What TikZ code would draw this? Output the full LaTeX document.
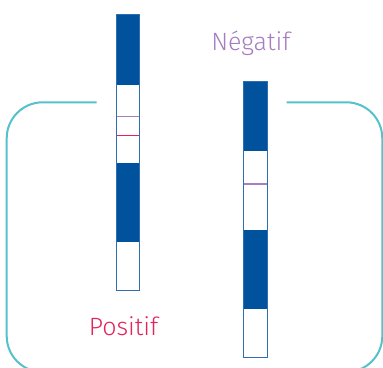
\documentclass[tikz,border=0pt]{standalone}
\usepackage{fontspec}
\setmainfont{Fira Sans Light}
\begin{document}
\begin{tikzpicture}[x=1pt, y=-1pt]
\definecolor{stripblue}{HTML}{00529C}
\definecolor{edgeblue}{HTML}{2F6DB0}
\definecolor{bracketcyan}{HTML}{55C2CB}
\definecolor{negpurple}{HTML}{A57DC0}
\definecolor{pospink}{HTML}{E3245C}
\useasboundingbox (0, 0) rectangle (383, 367);
\clip (0, 0) rectangle (383, 367);
% bracket
\draw[bracketcyan, line width = 2pt, rounded corners = 36pt] (96.7, 102.3) -- (6.7, 102.3) -- (6.7, 372) -- (382.3, 372) -- (382.3, 102.3) -- (286.7, 102.3);
% left strip
\fill[stripblue] (116, 14) rectangle (139.5, 85);
\fill[stripblue] (116, 163) rectangle (139.5, 241.7);
\draw[negpurple, line width = 1.3pt] (116, 116.7) -- (139.5, 116.7);
\draw[pospink, line width = 1.3pt] (116, 135.7) -- (139.5, 135.7);
\draw[edgeblue, line width = 0.9pt] (116, 14) rectangle (139.5, 290.7);
% right strip
\fill[stripblue] (243, 81) rectangle (267, 151);
\fill[stripblue] (243, 230) rectangle (267, 309);
\draw[negpurple, line width = 1.3pt] (243, 184) -- (267, 184);
\draw[edgeblue, line width = 0.9pt] (243, 81) rectangle (267, 357);
% labels
\node[anchor = base, text = negpurple, font = \fontsize{25}{29}\selectfont, inner sep = 0pt] (negatif) at (250.8, 50) {Négatif};
\node[anchor = base, text = pospink, font = \fontsize{25}{29}\selectfont, inner sep = 0pt] (positif) at (123.5, 335.5) {Positif};
\end{tikzpicture}
\end{document}
